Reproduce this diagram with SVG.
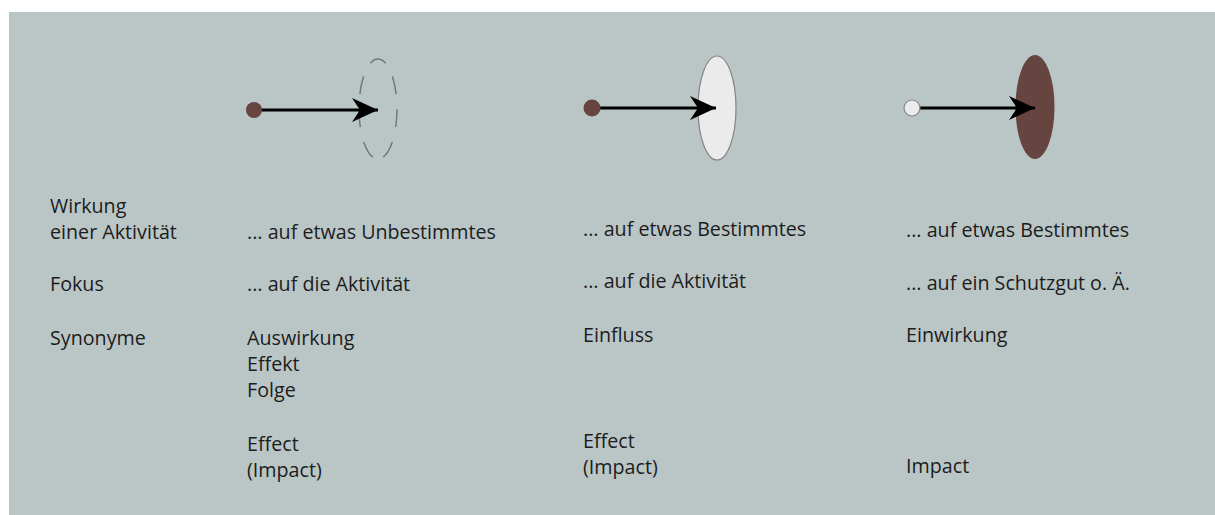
<svg xmlns="http://www.w3.org/2000/svg" width="1215" height="515" viewBox="0 0 1215 515">
<style>
.t{font-family:"Open Sans","Noto Sans",sans-serif;font-size:19.7px;fill:#1c1c1c}
.conn{stroke:#000;stroke-width:3;fill:none}
.brown{fill:#664541}
.light{fill:#ebebeb;stroke:#858585;stroke-width:1.2}
.dash{fill:none;stroke:#777;stroke-width:1.5;stroke-dasharray:18 15;stroke-dashoffset:9}
</style>
<defs>
<marker id="ah" markerUnits="userSpaceOnUse" markerWidth="28" markerHeight="26" refX="26" refY="12" orient="auto">
<path d="M0,0 L26,12 L0,24 L8,12 Z" fill="#000"/>
</marker>
</defs>
<rect x="9" y="12" width="1206" height="503" fill="#bac6c6"/>
<g id="target1">
<path class="dash" d="M378,59 A19,50 0 0 1 378,159"/>
<path class="dash" d="M378,59 A19,50 0 0 0 378,159"/>
</g>
<g id="target2">
<ellipse cx="717" cy="108" rx="19" ry="52" class="light"/>
</g>
<g id="target3">
<ellipse cx="1035" cy="107" rx="19.5" ry="52" class="brown"/>
</g>
<g id="connectors">
<line x1="254" y1="110" x2="378" y2="110" class="conn" marker-end="url(#ah)"/>
<line x1="592" y1="108" x2="716" y2="108" class="conn" marker-end="url(#ah)"/>
<line x1="912" y1="108" x2="1035" y2="108" class="conn" marker-end="url(#ah)"/>
</g>
<g id="source1"><circle cx="254" cy="110" r="8" class="brown"/></g>
<g id="source2"><circle cx="592" cy="108" r="8.5" class="brown"/></g>
<g id="source3"><circle cx="912" cy="108" r="8" class="light"/></g>
<g id="labels">
<text class="t" x="50" y="213">Wirkung</text>
<text class="t" x="50" y="239">einer Aktivität</text>
<text class="t" x="50" y="291">Fokus</text>
<text class="t" x="50" y="345">Synonyme</text>
</g>
<g id="col1">
<text class="t" x="247" y="239">... auf etwas Unbestimmtes</text>
<text class="t" x="247" y="291">... auf die Aktivität</text>
<text class="t" x="247" y="345">Auswirkung</text>
<text class="t" x="247" y="371">Effekt</text>
<text class="t" x="247" y="397">Folge</text>
<text class="t" x="247" y="451">Effect</text>
<text class="t" x="247" y="477">(Impact)</text>
</g>
<g id="col2">
<text class="t" x="583" y="236">... auf etwas Bestimmtes</text>
<text class="t" x="583" y="288">... auf die Aktivität</text>
<text class="t" x="583" y="342">Einfluss</text>
<text class="t" x="583" y="448">Effect</text>
<text class="t" x="583" y="474">(Impact)</text>
</g>
<g id="col3">
<text class="t" x="906" y="237">... auf etwas Bestimmtes</text>
<text class="t" x="906" y="290">... auf ein Schutzgut o. Ä.</text>
<text class="t" x="906" y="342">Einwirkung</text>
<text class="t" x="906" y="473">Impact</text>
</g>
</svg>
